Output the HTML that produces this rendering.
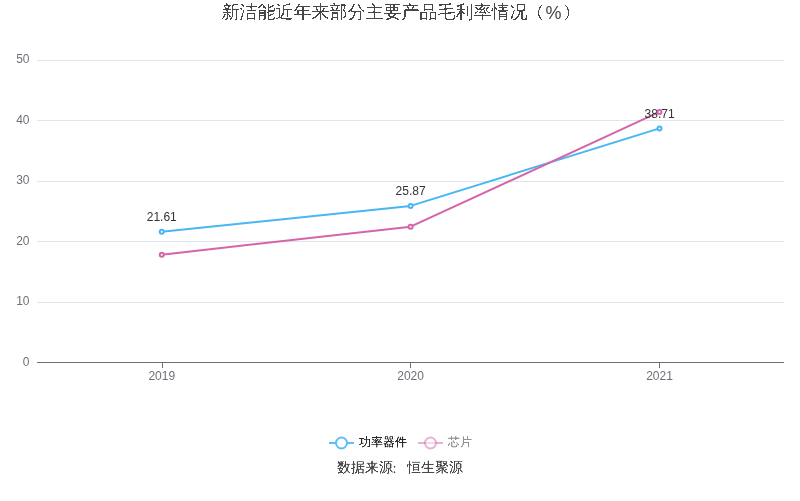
<!DOCTYPE html>
<html lang="zh-CN">
<head>
<meta charset="utf-8">
<title>新洁能近年来部分主要产品毛利率情况（%）</title>
<style>
  html, body { margin: 0; padding: 0; background: #ffffff; }
  body { width: 800px; height: 501px; overflow: hidden; position: relative; }
  svg { position: absolute; left: 0; top: 0; display: block; will-change: transform; }
  text { font-family: "Liberation Sans", "WenQuanYi Zen Hei", sans-serif; }
  .title  { font-size: 18px; fill: #464646; }
  .pm     { font-family: "WenQuanYi Zen Hei Mono", "WenQuanYi Zen Hei", sans-serif; font-size: 16px; }
  .ylab   { font-size: 12px; fill: #6E7079; text-anchor: end; }
  .xlab   { font-size: 12px; fill: #6E7079; text-anchor: middle; }
  .vlab   { font-size: 12px; fill: #333333; text-anchor: middle; }
  .leg    { font-size: 12px; }
  .src    { font-size: 14px; fill: #4a4a4a; text-anchor: middle; }
</style>
</head>
<body>
<svg width="800" height="501" viewBox="0 0 800 501">
  <defs>
    <filter id="mono" x="0" y="0" width="100%" height="100%" color-interpolation-filters="sRGB">
      <feComponentTransfer><feFuncA type="discrete" tableValues="0 1"/></feComponentTransfer>
    </filter>
    <filter id="crisp" x="0" y="0" width="100%" height="100%" color-interpolation-filters="sRGB">
      <feComponentTransfer><feFuncA type="linear" slope="2" intercept="-0.25"/></feComponentTransfer>
    </filter>
    <filter id="crisp2" x="0" y="0" width="100%" height="100%" color-interpolation-filters="sRGB">
      <feComponentTransfer><feFuncA type="linear" slope="2.4" intercept="-0.5"/></feComponentTransfer>
    </filter>
  </defs>
  <rect x="0" y="0" width="800" height="501" fill="#ffffff"/>

  <!-- title -->
  <g class="title"><text x="221.4" y="18" filter="url(#mono)">新洁能近年来部分主要产品毛利率情况<tspan class="pm" x="528.5">（</tspan></text><text x="545.4" y="19">%</text><text class="pm" x="562.8" y="18" filter="url(#mono)">）</text></g>

  <!-- split lines -->
  <g stroke="#E0E6F1" stroke-width="1" shape-rendering="crispEdges">
    <line x1="37" y1="60.5"  x2="784" y2="60.5"/>
    <line x1="37" y1="120.5" x2="784" y2="120.5"/>
    <line x1="37" y1="181.5" x2="784" y2="181.5"/>
    <line x1="37" y1="241.5" x2="784" y2="241.5"/>
    <line x1="37" y1="302.5" x2="784" y2="302.5"/>
  </g>

  <!-- x axis line + ticks -->
  <g stroke="#6E7079" stroke-width="1" shape-rendering="crispEdges">
    <line x1="37" y1="362.5" x2="784" y2="362.5"/>
    <line x1="162.5" y1="362" x2="162.5" y2="368"/>
    <line x1="410.5" y1="362" x2="410.5" y2="368"/>
    <line x1="659.5" y1="362" x2="659.5" y2="368"/>
  </g>

  <!-- y labels -->
  <text class="ylab" x="29.5" y="63">50</text>
  <text class="ylab" x="29.5" y="124">40</text>
  <text class="ylab" x="29.5" y="184">30</text>
  <text class="ylab" x="29.5" y="245">20</text>
  <text class="ylab" x="29.5" y="305">10</text>
  <text class="ylab" x="29.5" y="366">0</text>

  <!-- x labels -->
  <text class="xlab" x="161.75" y="380">2019</text>
  <text class="xlab" x="410.6" y="380">2020</text>
  <text class="xlab" x="659.5" y="380">2021</text>

  <!-- series lines -->
  <polyline fill="none" stroke="#47B6F4" stroke-width="2" stroke-linejoin="bevel"
            points="161.75,231.7 410.6,205.9 659.5,128.4"/>
  <polyline fill="none" stroke="#D564A9" stroke-width="2" stroke-linejoin="bevel"
            points="161.75,254.7 410.6,226.7 659.5,111.9"/>

  <!-- series 1: 功率器件 markers + labels -->
  <g fill="#ffffff" stroke="#47B6F4" stroke-width="2">
    <circle cx="161.75" cy="231.7" r="2"/>
    <circle cx="410.6" cy="205.9" r="2"/>
    <circle cx="659.5" cy="128.4" r="2"/>
  </g>
  <text class="vlab" x="161.75" y="221">21.61</text>
  <text class="vlab" x="410.6" y="195">25.87</text>
  <text class="vlab" x="659.6" y="118">38.71</text>

  <!-- series 2: 芯片 markers -->
  <g fill="#ffffff" stroke="#D564A9" stroke-width="2">
    <circle cx="161.75" cy="254.7" r="2"/>
    <circle cx="410.6" cy="226.7" r="2"/>
    <circle cx="659.5" cy="111.9" r="2"/>
  </g>

  <!-- legend -->
  <g>
    <line x1="329" y1="443" x2="354" y2="443" stroke="#5EBFF6" stroke-width="2"/>
    <circle cx="341.5" cy="443" r="5.5" fill="#ffffff" stroke="#5EBFF6" stroke-width="2"/>
    <text class="leg" x="359" y="445.5" fill="#2a2a2a" filter="url(#crisp)">功率器件</text>
    <g opacity="1">
      <line x1="418" y1="443" x2="443" y2="443" stroke="#D564A9" stroke-opacity="0.5" stroke-width="2"/>
      <circle cx="430.5" cy="443" r="5.5" fill="#ffffff" fill-opacity="0.5" stroke="#D564A9" stroke-opacity="0.5" stroke-width="2"/>
    </g>
    <text class="leg" x="448" y="445.5" fill="#909090" filter="url(#crisp)">芯片</text>
  </g>

  <!-- source -->
  <text class="src" x="400" y="472" filter="url(#crisp2)">数据来源<tspan dx="-5.5" dy="1">：</tspan><tspan dx="5.5" dy="-1">恒生聚源</tspan></text>
</svg>
</body>
</html>
